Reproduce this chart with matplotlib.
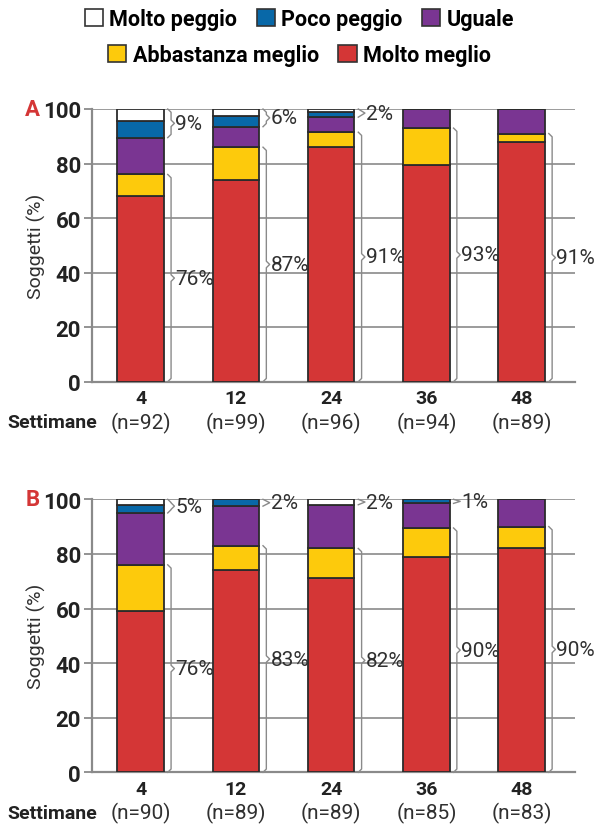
import numpy as np
import matplotlib.pyplot as plt
from matplotlib.patches import Patch

# categories / series
weeks = ['4', '12', '24', '36', '48']
n_A = ['(n=92)', '(n=99)', '(n=96)', '(n=94)', '(n=89)']
n_B = ['(n=90)', '(n=89)', '(n=89)', '(n=85)', '(n=83)']
series = ['Molto meglio', 'Abbastanza meglio', 'Uguale', 'Poco peggio', 'Molto peggio']
colors = ['#d43636', '#fdca0c', '#7a3592', '#0868a8', '#ffffff']

# panel A (% of subjects), bottom to top
molto_meglio_A = [68, 74, 86, 79.5, 88]
abbastanza_A = [8, 12, 5.5, 13.5, 3]
uguale_A = [13.5, 7.5, 5.5, 7, 9]
poco_peggio_A = [6, 4, 2, 0, 0]
molto_peggio_A = [4.5, 2.5, 1, 0, 0]
low_lab_A = ['76%', '87%', '91%', '93%', '91%']
top_lab_A = ['9%', '6%', '2%', None, None]

# panel B
molto_meglio_B = [59, 74, 71, 79, 82]
abbastanza_B = [17, 9, 11, 10.5, 8]
uguale_B = [19, 14.5, 16, 9, 10]
poco_peggio_B = [3, 2.5, 0, 1.5, 0]
molto_peggio_B = [2, 0, 2, 0, 0]
low_lab_B = ['76%', '83%', '82%', '90%', '90%']
top_lab_B = ['5%', '2%', '2%', '1%', None]

FONT = ['Roboto', 'DejaVu Sans']
plt.rcParams['font.family'] = FONT

fig = plt.figure(figsize=(5.99, 8.28), dpi=100)
W, H = 599, 828


def brace(ax, x, y0, y1, label, h=0.035):
    d = min(1.2, (y1 - y0) / 4)
    ym = (y0 + y1) / 2
    xs = [x - h, x, x, x + h, x, x, x - h]
    ys = [y0, y0 + d, ym - d, ym, ym + d, y1 - d, y1]
    ax.plot(xs, ys, color='#8a8a8a', lw=1.0, zorder=1, clip_on=False)
    ax.text(x + h + 0.01, ym, label, ha='left', va='center', fontsize=15,
            color='#303030', zorder=4)


def panel(rect, letter, stacks, low_lab, top_lab, nlab):
    ax = fig.add_axes(rect)
    x = np.arange(len(weeks))
    bottom = np.zeros(len(weeks))
    for vals, c in zip(stacks, colors):
        vals = np.array(vals, dtype=float)
        ax.bar(x, vals, 0.49, bottom=bottom, color=c, edgecolor='#2b2b2b',
               linewidth=1.3, zorder=3)
        bottom += vals
    ax.set_xlim(-0.51, 4.56)
    ax.set_ylim(0, 100)
    ax.set_yticks([0, 20, 40, 60, 80, 100])
    ax.set_yticklabels(['0', '20', '40', '60', '80', '100'], fontsize=16,
                       fontweight='bold', color='#222222')
    ax.tick_params(axis='y', length=6, width=1.3, color='#8a8a8a', pad=2)
    ax.set_xticks([])
    ax.grid(axis='y', color='#8a8a8a', lw=1.2, zorder=0)
    for s in ['top', 'right']:
        ax.spines[s].set_visible(False)
    for s in ['left', 'bottom']:
        ax.spines[s].set_color('#8a8a8a')
        ax.spines[s].set_linewidth(1.6)
    ax.set_ylabel('Soggetti (%)', fontsize=14, color='#303030')
    ax.yaxis.set_label_coords(-0.095, 0.5)

    red, yel, pur = (np.array(s, dtype=float) for s in stacks[:3])
    for i in range(len(weeks)):
        xb = x[i] + 0.245 + 0.075
        lo = red[i] + yel[i]
        brace(ax, xb, 0, lo, low_lab[i])
        if top_lab[i] is not None:
            brace(ax, xb, lo + pur[i], 100, top_lab[i])
        ax.annotate(weeks[i], (x[i], 0), xycoords=('data', 'axes fraction'),
                    xytext=(0, -12), textcoords='offset points', ha='center',
                    va='center', fontsize=14, fontweight='bold', color='#222222')
        ax.annotate(nlab[i], (x[i], 0), xycoords=('data', 'axes fraction'),
                    xytext=(0, -29), textcoords='offset points', ha='center',
                    va='center', fontsize=15, color='#303030')
    ax.annotate('Settimane', (0, 0), xycoords='axes fraction',
                xytext=(4, -29), textcoords='offset points', ha='right',
                va='center', fontsize=14, fontweight='bold', color='#222222')
    ax.annotate(letter, (0, 1), xycoords='axes fraction', xytext=(-43, 0),
                textcoords='offset points', ha='center', va='center',
                fontsize=16, fontweight='bold', color='#d43636')
    return ax


left, width = 92 / W, 483 / W
panel([left, 1 - 382.7 / H, width, 272.7 / H], 'A',
      [molto_meglio_A, abbastanza_A, uguale_A, poco_peggio_A, molto_peggio_A],
      low_lab_A, top_lab_A, n_A)
panel([left, 1 - 773.3 / H, width, 273 / H], 'B',
      [molto_meglio_B, abbastanza_B, uguale_B, poco_peggio_B, molto_peggio_B],
      low_lab_B, top_lab_B, n_B)

handles = {s: Patch(facecolor=c, edgecolor='#333333', linewidth=1.2)
           for s, c in zip(series, colors)}
row1 = ['Molto peggio', 'Poco peggio', 'Uguale']
row2 = ['Abbastanza meglio', 'Molto meglio']
legkw = dict(loc='center', frameon=False, handlelength=0.85, handleheight=0.85,
             handletextpad=0.3, columnspacing=0.9, borderaxespad=0,
             prop={'family': FONT, 'weight': 'bold', 'size': 15.5})
fig.legend([handles[s] for s in row1], row1, ncol=3,
           bbox_to_anchor=(0.5, 1 - 20 / H), **legkw)
fig.legend([handles[s] for s in row2], row2, ncol=2,
           bbox_to_anchor=(0.5, 1 - 56 / H), **legkw)

fig.savefig('out.png', dpi=100)
